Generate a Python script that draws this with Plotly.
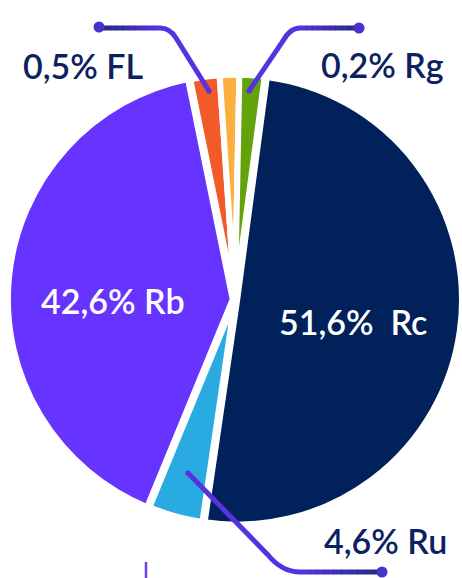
import plotly.graph_objects as go

# ---- data ----
categories = ["Rc", "Ru", "Rb", "FL", "Autre", "Rg"]
shares = [50.2, 3.9, 40.6, 2.1, 1.4, 1.8]          # drawn proportions of the slices
share_labels = ["51,6%", "4,6%", "42,6%", "0,5%", "", "0,2%"]
colors = ["#00215A", "#29ABE2", "#6633FF", "#F15A29", "#FBB040", "#62A30B"]

W, H = 462, 578
pull = [0.01, 0, 0.01, 0, 0, 0]
R0 = 224.8
size = 2 * R0 * (1 + max(pull))
cx = W - size / 2
cy = 299.5

fig = go.Figure(go.Pie(
    values=shares, labels=categories, sort=False, direction="clockwise",
    rotation=7.6, pull=pull, textinfo="none", hoverinfo="skip", showlegend=False,
    marker=dict(colors=colors, line=dict(color="white", width=6)),
    domain=dict(x=[(cx - size / 2) / W, 1],
                y=[(H - cy - size / 2) / H, (H - cy + size / 2) / H]),
))

NAVY_TXT = "#0B2160"
PURPLE = "#5533E0"
DEEP = "#22297F"


def mix(c1, c2, t):
    a = [int(c1[i:i + 2], 16) for i in (1, 3, 5)]
    b = [int(c2[i:i + 2], 16) for i in (1, 3, 5)]
    return "#" + "".join(f"{round(a[k] + (b[k] - a[k]) * t):02X}" for k in range(3))


shapes = []


def leader(path, hx0, hx1, hy, dot, inner):
    shapes.append(dict(type="path", path=path, xref="x", yref="y",
                       line=dict(color=PURPLE, width=5)))
    n = 10
    for i in range(n):
        xa = hx0 + (hx1 - hx0) * i / n
        xb = hx0 + (hx1 - hx0) * (i + 1) / n + (0.6 if hx1 > hx0 else -0.6)
        shapes.append(dict(type="line", x0=xa, x1=xb, y0=hy, y1=hy, xref="x", yref="y",
                           line=dict(color=mix(PURPLE, DEEP, (i + 0.5) / n), width=5)))
    r = 5.5
    shapes.append(dict(type="circle", x0=dot[0] - r, x1=dot[0] + r, y0=dot[1] - r, y1=dot[1] + r,
                       xref="x", yref="y", fillcolor="#4A30CC", line=dict(width=0)))
    r2 = 2.6
    shapes.append(dict(type="circle", x0=inner[0] - r2, x1=inner[0] + r2, y0=inner[1] - r2,
                       y1=inner[1] + r2, xref="x", yref="y", fillcolor=PURPLE, line=dict(width=0)))


leader("M 209 91 L 176 38 Q 170 28 160 28", 160, 99, 28, (99, 27), (209, 91))
leader("M 249 91 L 283 41 Q 290 28 300 28", 300, 359, 28, (359, 28), (249, 91))
leader("M 188 473 L 268 555 Q 282 572 300 572", 300, 382, 572, (382, 572), (188, 473))

shapes.append(dict(type="line", x0=146, x1=146, y0=562, y1=580, xref="x", yref="y",
                   line=dict(color="#6B3FF0", width=2.5)))

font = dict(family="Lato", size=34, weight=600)
ann_pos = {"FL": (83, 65, NAVY_TXT), "Rg": (382, 64.5, NAVY_TXT), "Ru": (385, 540, NAVY_TXT),
           "Rb": (113, 300, "white"), "Rc": (353, 321.5, "white")}
annotations = []
for cat, lab in zip(categories, share_labels):
    if cat in ann_pos and lab:
        x, y, col = ann_pos[cat]
        sep = "&nbsp; " if cat == "Rc" else " "
        annotations.append(dict(x=x, y=y, xref="x", yref="y", text=f"{lab}{sep}{cat}",
                                showarrow=False, xanchor="center", yanchor="middle",
                                font=dict(font, color=col)))

fig.update_layout(
    width=W, height=H, margin=dict(l=0, r=0, t=0, b=0),
    paper_bgcolor="white", plot_bgcolor="rgba(0,0,0,0)",
    xaxis=dict(range=[0, W], visible=False, fixedrange=True),
    yaxis=dict(range=[H, 0], visible=False, fixedrange=True),
    shapes=shapes, annotations=annotations,
)
fig.write_html("out.html", config=dict(displayModeBar=False),
               post_script="document.body.style.margin='0';document.body.style.overflow='hidden';")
